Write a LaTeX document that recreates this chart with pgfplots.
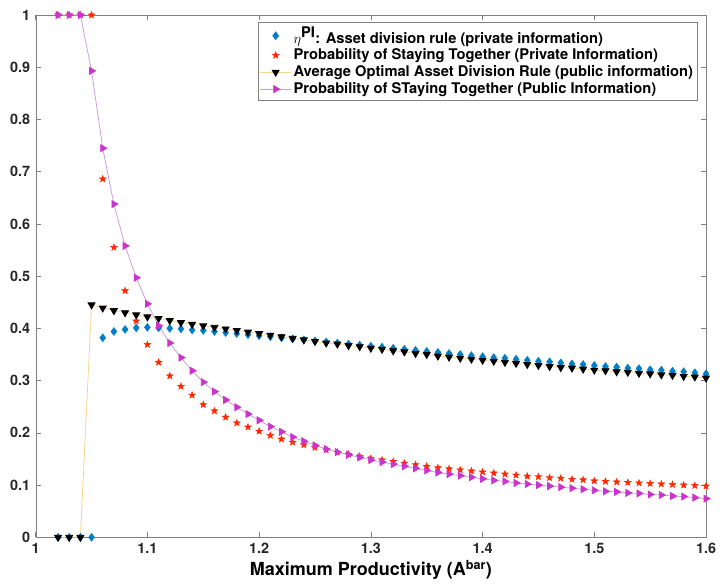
\documentclass[border=0pt]{standalone}
\usepackage{fontspec}
\setmainfont{TeX Gyre Heros}
\usepackage{pgfplots}
\pgfplotsset{compat=1.18}
\usepackage{pgfplotstable}
\usetikzlibrary{calc}
\definecolor{cblue}{RGB}{0,126,200}
\definecolor{cred}{RGB}{255,40,0}
\definecolor{cmag}{RGB}{204,51,204}
\definecolor{cyel}{RGB}{243,212,140}
\definecolor{cpur}{RGB}{200,160,220}
\pgfdeclareplotmark{pent}{%
  \pgfpathmoveto{\pgfqpointpolar{90}{\pgfplotmarksize}}%
  \pgfpathlineto{\pgfqpointpolar{126}{0.42\pgfplotmarksize}}%
  \pgfpathlineto{\pgfqpointpolar{162}{\pgfplotmarksize}}%
  \pgfpathlineto{\pgfqpointpolar{198}{0.42\pgfplotmarksize}}%
  \pgfpathlineto{\pgfqpointpolar{234}{\pgfplotmarksize}}%
  \pgfpathlineto{\pgfqpointpolar{270}{0.42\pgfplotmarksize}}%
  \pgfpathlineto{\pgfqpointpolar{306}{\pgfplotmarksize}}%
  \pgfpathlineto{\pgfqpointpolar{342}{0.42\pgfplotmarksize}}%
  \pgfpathlineto{\pgfqpointpolar{18}{\pgfplotmarksize}}%
  \pgfpathlineto{\pgfqpointpolar{54}{0.42\pgfplotmarksize}}%
  \pgfpathclose
  \pgfusepathqfillstroke}
\pgfplotstableread{
x     blue   red    black  mag
1.02  0      1.000  0      1.000
1.03  0      1.000  0      1.000
1.04  0      1.000  0      1.000
1.05  0      1.000  0.445  0.893
1.06  0.382  0.686  0.439  0.745
1.07  0.394  0.555  0.434  0.638
1.08  0.398  0.472  0.430  0.558
1.09  0.401  0.414  0.426  0.497
1.10  0.402  0.369  0.422  0.447
1.11  0.401  0.335  0.419  0.405
1.12  0.400  0.309  0.415  0.372
1.13  0.399  0.289  0.411  0.344
1.14  0.397  0.272  0.408  0.319
1.15  0.396  0.254  0.405  0.297
1.16  0.394  0.242  0.402  0.279
1.17  0.392  0.230  0.399  0.263
1.18  0.390  0.219  0.396  0.249
1.19  0.388  0.211  0.393  0.236
1.20  0.386  0.203  0.390  0.224
1.21  0.384  0.195  0.387  0.212
1.22  0.382  0.188  0.384  0.202
1.23  0.380  0.182  0.381  0.192
1.24  0.378  0.177  0.378  0.184
1.25  0.376  0.172  0.375  0.176
1.26  0.374  0.167  0.372  0.169
1.27  0.372  0.163  0.370  0.163
1.28  0.370  0.159  0.367  0.158
1.29  0.368  0.155  0.365  0.153
1.30  0.366  0.151  0.362  0.148
1.31  0.364  0.148  0.360  0.144
1.32  0.362  0.145  0.357  0.140
1.33  0.360  0.142  0.355  0.136
1.34  0.358  0.139  0.352  0.132
1.35  0.356  0.136  0.350  0.128
1.36  0.354  0.133  0.347  0.124
1.37  0.352  0.131  0.345  0.121
1.38  0.350  0.129  0.343  0.118
1.39  0.348  0.127  0.341  0.115
1.40  0.346  0.125  0.339  0.112
1.41  0.344  0.123  0.337  0.109
1.42  0.343  0.121  0.335  0.107
1.43  0.341  0.119  0.333  0.104
1.44  0.339  0.117  0.331  0.102
1.45  0.337  0.116  0.329  0.100
1.46  0.336  0.114  0.327  0.098
1.47  0.334  0.113  0.325  0.096
1.48  0.332  0.111  0.324  0.094
1.49  0.331  0.110  0.322  0.092
1.50  0.329  0.108  0.320  0.090
1.51  0.327  0.107  0.319  0.088
1.52  0.326  0.106  0.317  0.087
1.53  0.324  0.105  0.316  0.085
1.54  0.323  0.104  0.314  0.084
1.55  0.321  0.103  0.313  0.082
1.56  0.320  0.102  0.311  0.081
1.57  0.318  0.101  0.310  0.079
1.58  0.317  0.100  0.308  0.078
1.59  0.315  0.099  0.307  0.076
1.60  0.313  0.098  0.305  0.074
}\datatable
\begin{document}
\begin{tikzpicture}
\begin{axis}[
  scale only axis, width=670.3pt, height=522.3pt,
  xmin=1, xmax=1.6, ymin=0, ymax=1,
  xtick={1,1.1,1.2,1.3,1.4,1.5,1.6},
  ytick={0,0.1,0.2,0.3,0.4,0.5,0.6,0.7,0.8,0.9,1},
  tick align=inside, major tick length=5pt,
  axis line style={black!50},
  tick style={black!50, line width=0.5pt},
  /pgf/number format/assume math mode=true,
  tick label style={font=\fontsize{14.4}{16}\selectfont\bfseries, text=black!85},
  xticklabel style={yshift=-2pt},
  yticklabel style={xshift=-2pt},
  xlabel={Maximum Productivity (A\textsuperscript{bar})},
  xlabel style={font=\fontsize{18}{20}\selectfont\bfseries, yshift=0pt},
  legend image code/.code={\draw[mark repeat=2, mark phase=2]
     plot coordinates {(0pt,0pt) (15.5pt,0pt) (31pt,0pt)};},
  legend style={at={(rel axis cs:0.987,0.986)}, anchor=north east,
    draw=black!50, line width=0.5pt,
    font=\fontsize{14.7}{16}\selectfont\bfseries,
    row sep=0.5pt, inner xsep=2pt, inner ysep=2.5pt},
  legend cell align=left,
]
\addplot[only marks, mark=diamond*, mark size=4pt, color=cblue, fill=cblue]
  table[x=x, y=blue] {\datatable};
\addlegendentry{$\eta^{\textbf{PI}}$: Asset division rule (private information)}
\addplot[only marks, mark=pent, mark size=3.6pt, color=cred, fill=cred]
  table[x=x, y=red] {\datatable};
\addlegendentry{Probability of Staying Together (Private Information)}
\addplot[color=cyel, line width=0.8pt, mark=triangle*, mark size=4pt,
  mark options={rotate=180, draw=black, fill=black}]
  table[x=x, y=black] {\datatable};
\addlegendentry{Average Optimal Asset Division Rule (public information)}
\addplot[color=cpur, line width=0.8pt, mark=triangle*, mark size=4pt,
  mark options={rotate=-90, draw=cmag, fill=cmag}]
  table[x=x, y=mag] {\datatable};
\addlegendentry{Probability of STaying Together (Public Information)}
\end{axis}
\path (current axis.south west) ++(-35.7pt,-45.7pt) rectangle ($(current axis.north east)+(14pt,15pt)$);
\end{tikzpicture}
\end{document}
